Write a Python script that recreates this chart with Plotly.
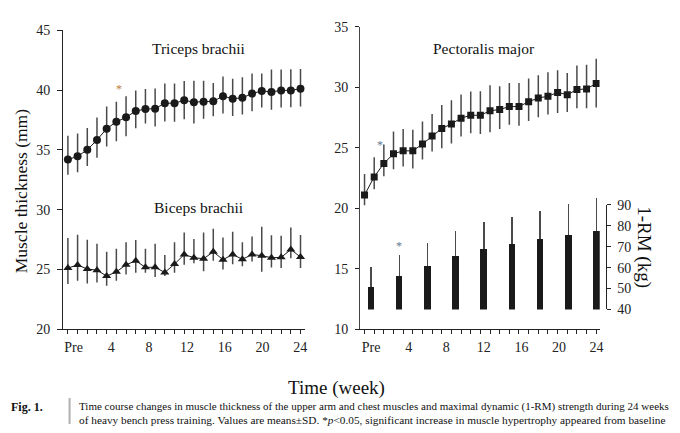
import plotly.graph_objects as go

W, H = 680, 433

# ---------------- data ----------------
weeks = list(range(25))
week_ticks = [0, 4, 8, 12, 16, 20, 24]
week_labels = ["Pre", "4", "8", "12", "16", "20", "24"]

triceps = [34.19, 34.46, 35.00, 35.83, 36.77, 37.34, 37.72, 38.25, 38.41, 38.44, 38.90, 38.90, 39.14,
           38.98, 39.03, 39.06, 39.49, 39.27, 39.35, 39.70, 39.92, 39.84, 39.97, 39.97, 40.11]
triceps_sd_up = [1.99, 1.91, 1.83, 1.88, 1.85, 1.69, 1.75, 1.72, 1.67, 1.69, 1.64, 1.64, 1.61,
                 1.80, 1.75, 1.53, 1.64, 1.67, 1.72, 1.67, 1.45, 1.88, 1.75, 1.77, 1.64]
triceps_sd_down = [1.26, 1.32, 1.34, 1.48, 1.48, 1.61, 1.59, 1.45, 1.21, 1.48, 1.53, 1.56, 1.59,
                   1.77, 1.42, 1.26, 1.45, 1.45, 1.40, 1.48, 1.37, 1.48, 1.42, 1.40, 1.48]

biceps = [25.13, 25.38, 25.05, 24.95, 24.46, 24.81, 25.40, 25.73, 25.19, 25.19, 24.76, 25.46, 26.26,
          25.99, 25.91, 26.48, 25.83, 26.26, 25.86, 26.26, 26.16, 25.99, 26.02, 26.67, 26.05]
biceps_sd_up = [2.50, 2.53, 2.45, 2.20, 2.02, 1.94, 1.88, 1.75, 1.56, 1.96, 1.45, 1.83, 1.83,
                1.56, 2.18, 1.94, 1.85, 1.91, 1.42, 1.51, 2.42, 1.88, 1.80, 1.85, 1.83]
biceps_sd_down = [1.34, 1.32, 1.21, 1.02, 0.81, 0.75, 0.81, 0.99, 0.46, 0.81, 0.30, 0.73, 0.86,
                  0.46, 1.05, 0.75, 0.83, 0.81, 0.59, 0.59, 1.34, 0.81, 0.89, 0.73, 0.91]

pectoralis = [21.11, 22.60, 23.71, 24.51, 24.75, 24.75, 25.31, 25.97, 26.60, 26.98, 27.45, 27.69, 27.69,
              28.06, 28.17, 28.41, 28.41, 28.81, 29.12, 29.26, 29.58, 29.39, 29.81, 29.87, 30.32]
pect_sd_up = [1.72, 1.62, 1.56, 1.83, 1.80, 1.75, 1.86, 1.83, 1.94, 1.96, 1.96, 1.96, 1.99,
              2.12, 1.91, 1.94, 1.94, 1.91, 1.88, 1.99, 1.83, 1.80, 2.00, 2.00, 2.05]
pect_sd_down = [0.85, 1.01, 1.06, 1.27, 1.30, 1.46, 1.27, 1.27, 1.64, 1.62, 1.51, 1.49, 1.54,
                1.78, 1.62, 1.51, 1.59, 1.59, 1.59, 1.51, 1.70, 1.43, 1.54, 1.59, 1.99]

rm_weeks = [0, 3, 6, 9, 12, 15, 18, 21, 24]
rm_kg = [50.9, 55.8, 61.0, 65.6, 68.7, 71.5, 73.9, 75.4, 77.6]
rm_sd = [9.6, 10.3, 10.8, 12.1, 12.9, 12.8, 13.2, 14.8, 15.5]
rm_zero = [0] * len(rm_kg)

caption_lines = [
    "Time course changes in muscle thickness of the upper arm and chest muscles and maximal dynamic (1-RM) strength during 24 weeks",
    "of heavy bench press training. Values are means\u00b1SD. *<i>p</i>&lt;0.05, significant increase in muscle hypertrophy appeared from baseline",
]

# ---------------- helpers (layout only) ----------------
def fx(px):
    return px / W

def fy(py):
    return 1 - py / H

FONT = "Liberation Serif"
INK = "#1a1a1a"
ERR = "#4a4a4a"

fig = go.Figure()

def err(up, down):
    return dict(type="data", symmetric=False, array=up, arrayminus=down,
                color=ERR, thickness=1.5, width=0)

fig.add_trace(go.Scatter(x=weeks, y=triceps, mode="lines+markers", xaxis="x", yaxis="y",
                         line=dict(color=INK, width=1),
                         marker=dict(symbol="circle", size=8, color=INK),
                         error_y=err(triceps_sd_up, triceps_sd_down), showlegend=False))
fig.add_trace(go.Scatter(x=weeks, y=biceps, mode="lines+markers", xaxis="x", yaxis="y",
                         line=dict(color=INK, width=1),
                         marker=dict(symbol="triangle-up", size=8, color=INK),
                         error_y=err(biceps_sd_up, biceps_sd_down), showlegend=False))
fig.add_trace(go.Scatter(x=weeks, y=pectoralis, mode="lines+markers", xaxis="x2", yaxis="y2",
                         line=dict(color=INK, width=1),
                         marker=dict(symbol="square", size=7, color=INK),
                         error_y=err(pect_sd_up, pect_sd_down), showlegend=False))
fig.add_trace(go.Bar(x=rm_weeks, y=rm_kg, xaxis="x3", yaxis="y3", width=0.7,
                     marker=dict(color=INK, line=dict(width=0)),
                     error_y=dict(type="data", symmetric=False, array=rm_sd, arrayminus=rm_zero,
                                  color=ERR, thickness=1.5, width=0),
                     showlegend=False))

# empty traces so that the label axes and the 1-RM axis get drawn
for xa, ya in [("x4", "y"), ("x5", "y2"), ("x3", "y4")]:
    fig.add_trace(go.Scatter(x=[None], y=[None], xaxis=xa, yaxis=ya, mode="markers",
                             showlegend=False, hoverinfo="skip"))

# geometry in pixels
L_X0, L_X1 = 63.3, 306.7
R_X0, R_X1 = 362.3, 603.3
L_Y0, L_Y1 = 24, 334
R_Y0, R_Y1 = 20.5, 334

tickfont = dict(family=FONT, size=14, color="#222")

def data_range(x0px, x1px, w0px, step):
    return [(x0px - w0px) / step, (x1px - w0px) / step]

common_y = dict(showgrid=False, zeroline=False, showline=True, linecolor="#222", linewidth=1,
                ticks="outside", ticklen=5, tickcolor="#222", tickwidth=1, tickfont=tickfont,
                ticklabelstandoff=4)
common_x = dict(showgrid=False, zeroline=False, showline=True, linecolor="#222", linewidth=1,
                ticks="outside", ticklen=4, tickcolor="#222", tickwidth=1, tickmode="linear",
                tick0=0, dtick=1, showticklabels=False)
label_x = dict(showgrid=False, zeroline=False, showline=False, ticks="", tickmode="array",
               tickvals=week_ticks, ticktext=week_labels, tickfont=tickfont,
               ticklabelstandoff=8)

fig.update_layout(
    width=W, height=H, margin=dict(l=0, r=0, t=0, b=0),
    paper_bgcolor="white", plot_bgcolor="rgba(0,0,0,0)",
    bargap=0,
    xaxis=dict(common_x, domain=[fx(L_X0), fx(L_X1)], anchor="y",
               range=data_range(L_X0, L_X1, 68.3, 9.75)),
    yaxis=dict(common_y, domain=[fy(L_Y1), fy(L_Y0)], anchor="x", range=[20, 45],
               tickmode="linear", tick0=20, dtick=5),
    xaxis2=dict(common_x, domain=[fx(R_X0), fx(R_X1)], anchor="y2",
                range=data_range(R_X0, R_X1, 366.7, 9.71)),
    yaxis2=dict(common_y, domain=[fy(R_Y1), fy(R_Y0)], anchor="x2", range=[10, 35],
                tickmode="linear", tick0=10, dtick=5, linecolor="#444", ticklen=4),
    xaxis3=dict(domain=[fx(R_X0), fx(R_X1)], anchor="y3", visible=False,
                range=data_range(R_X0, R_X1, 373.3, 9.45)),
    yaxis3=dict(domain=[fy(313.3), fy(183.3)], anchor="x3", visible=False, range=[40, 100]),
    xaxis4=dict(label_x, overlaying="x", anchor="y", range=data_range(L_X0, L_X1, 74, 9.5)),
    xaxis5=dict(label_x, overlaying="x2", anchor="y2", range=data_range(R_X0, R_X1, 373.3, 9.45)),
    yaxis4=dict(common_y, domain=[fy(313.3), fy(205)], anchor="free", position=fx(610),
                side="right", range=[40, 90], tickmode="linear", tick0=40, dtick=10, ticklen=4,
                ticklabelstandoff=3),
)

ann = []
def text(x, y, s, size, **kw):
    d = dict(x=x, y=y, xref="paper", yref="paper", text=s, showarrow=False,
             xanchor="center", yanchor="middle",
             font=dict(family=FONT, size=size, color=kw.pop("color", "#111")))
    d.update(kw)
    ann.append(d)

text(fx(200), fy(43), "Triceps brachii", 15.5)
text(fx(200), fy(208), "Biceps brachii", 15.5)
text(fx(487), fy(43), "Pectoralis major", 15.5)
text(fx(22), fy(191), "Muscle thickness (mm)", 17.5, textangle=-90)
text(fx(647), fy(249), "1-RM (kg)", 19, textangle=90)
text(fx(338), fy(395), "Time (week)", 19)
text(fx(9), fy(414), "<b>Fig. 1.</b>", 12, xanchor="left")
text(fx(77), fy(414), caption_lines[0], 11.0, xanchor="left")
text(fx(77), fy(428), caption_lines[1], 11.3, xanchor="left")

ann.append(dict(x=5.3, y=40.1, xref="x", yref="y", text="*", showarrow=False,
                font=dict(family=FONT, size=12, color="#c07a3a")))
ann.append(dict(x=1.55, y=25.2, xref="x2", yref="y2", text="*", showarrow=False,
                font=dict(family=FONT, size=12, color="#5f7694")))
ann.append(dict(x=3, y=70.5, xref="x3", yref="y3", text="*", showarrow=False,
                font=dict(family=FONT, size=12, color="#5f7694")))

fig.update_layout(annotations=ann,
                  shapes=[dict(type="line", xref="paper", yref="paper",
                               x0=fx(70), x1=fx(70), y0=fy(405), y1=fy(432),
                               line=dict(color="#b0b0b0", width=2))])

fig.write_html("out.html")
